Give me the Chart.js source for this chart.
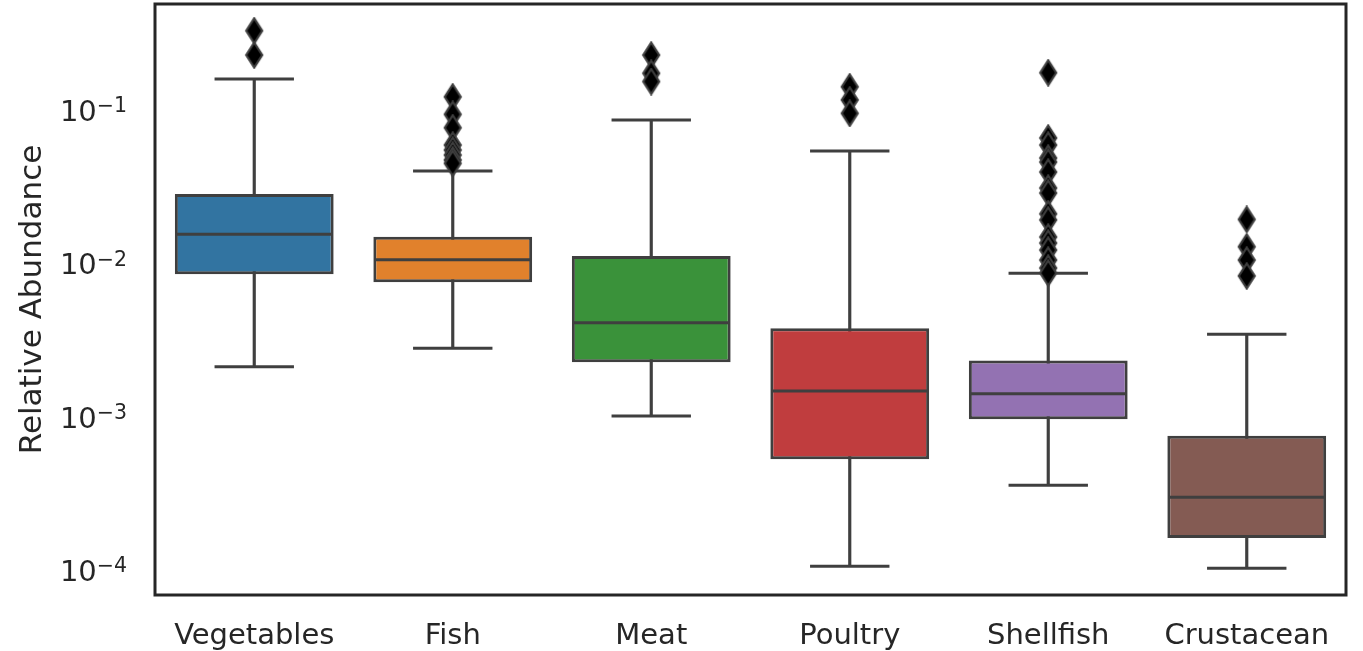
<!DOCTYPE html>
<html>
<head>
<meta charset="utf-8">
<script src="https://cdn.jsdelivr.net/npm/chart.js@4.4.1/dist/chart.umd.min.js"></script>
<style>
  html, body { margin: 0; padding: 0; background: #ffffff; }
  #wrap { width: 1363px; height: 651px; position: relative; }
</style>
</head>
<body>
<div id="wrap"><canvas id="c" width="1363" height="651"></canvas></div>
<script>
// ---- data ----
const categories = ['Vegetables', 'Fish', 'Meat', 'Poultry', 'Shellfish', 'Crustacean'];
const q1Values     = [0.00835, 0.00741, 0.00223, 0.000519, 0.000946, 0.000159];
const medianValues = [0.01524, 0.0104, 0.00404, 0.001445, 0.00139, 0.000293];
const q3Values     = [0.02792, 0.01469, 0.01099, 0.00371, 0.002285, 0.000740];
const whiskerLow   = [0.002085, 0.002749, 0.000993, 0.000104, 0.000352, 0.000101];
const whiskerHigh  = [0.157, 0.0394, 0.0848, 0.0532, 0.00848, 0.0034];
const outliersVegetables = [0.324, 0.225];
const outliersFish = [0.120, 0.0923, 0.0755, 0.0582, 0.0540, 0.0501, 0.0465, 0.0442];
const outliersMeat = [0.225, 0.171, 0.151];
const outliersPoultry = [0.1396, 0.1146, 0.0937];
const outliersShellfish = [0.1725, 0.0647, 0.0582, 0.0479, 0.0451, 0.0388, 0.0305, 0.0283,
                           0.0207, 0.0189, 0.01462, 0.01336, 0.01203, 0.01035, 0.00918, 0.00851];
const outliersCrustacean = [0.01905, 0.01264, 0.01035, 0.00815];
const yTickValues = [1e-4, 1e-3, 1e-2, 1e-1];
const yTickBase = ['10', '10', '10', '10'];
const yTickExponents = ['\u22124', '\u22123', '\u22122', '\u22121'];
const boxColors = ['#3274a1', '#e1812c', '#3a923a', '#c03d3e', '#9372b2', '#845b53'];

const outliers = [outliersVegetables, outliersFish, outliersMeat, outliersPoultry, outliersShellfish, outliersCrustacean];
const lineGray = '#3f3f3f';
const textColor = '#262626';

// thin diamond marker
function makeDiamond() {
  const w = 20, h = 28;
  const c = document.createElement('canvas');
  c.width = w; c.height = h;
  const g = c.getContext('2d');
  g.beginPath();
  g.moveTo(w / 2, 1.5);
  g.lineTo(w - 2, h / 2);
  g.lineTo(w / 2, h - 1.5);
  g.lineTo(2, h / 2);
  g.closePath();
  g.fillStyle = '#000000';
  g.fill();
  g.lineWidth = 2.2;
  g.strokeStyle = lineGray;
  g.stroke();
  return c;
}
const diamond = makeDiamond();

const boxData = categories.map((c, i) => [q1Values[i], q3Values[i]]);
const whiskerData = categories.map((c, i) => [whiskerLow[i], whiskerHigh[i]]);
const medianData = categories.map((c, i) => ({ x: c, y: medianValues[i] }));
const capData = [];
categories.forEach((c, i) => { capData.push({ x: c, y: whiskerLow[i] }); capData.push({ x: c, y: whiskerHigh[i] }); });
const flierData = [];
categories.forEach((c, i) => outliers[i].forEach(v => flierData.push({ x: c, y: v })));

function bandWidth(ctx) {
  const xs = ctx.chart.scales.x;
  return xs ? xs.width / categories.length : 198;
}

const framePlugin = {
  id: 'frame',
  afterDraw(chart) {
    const a = chart.chartArea, g = chart.ctx;
    g.save();
    g.strokeStyle = textColor;
    g.lineWidth = 3;
    g.strokeRect(a.left, a.top, a.right - a.left, a.bottom - a.top);
    // y tick labels with superscript exponents, placed by the y scale
    const ys = chart.scales.y;
    const right = a.left - 28;
    g.fillStyle = textColor;
    g.textBaseline = 'alphabetic';
    yTickValues.forEach((v, i) => {
      const py = ys.getPixelForValue(v);
      g.font = '20.5px "DejaVu Sans"';
      const ew = g.measureText(yTickExponents[i]).width;
      g.textAlign = 'right';
      g.fillText(yTickExponents[i], right, py + 3.5);
      g.font = '29px "DejaVu Sans"';
      g.fillText(yTickBase[i], right - ew, py + 12);
    });
    g.restore();
  }
};

new Chart(document.getElementById('c'), {
  data: {
    labels: categories,
    datasets: [
      {
        type: 'bar', label: 'whiskers', data: whiskerData,
        backgroundColor: lineGray, borderWidth: 0, barThickness: 2.5,
        grouped: false, order: 4
      },
      {
        type: 'bar', label: 'boxes', data: boxData,
        backgroundColor: boxColors, borderColor: lineGray, borderWidth: 3,
        borderSkipped: false, barPercentage: 0.8, categoryPercentage: 1.0,
        grouped: false, order: 3
      },
      {
        type: 'line', label: 'medians', data: medianData, showLine: false,
        pointStyle: 'line', borderColor: lineGray, pointBorderWidth: 3,
        pointRadius: (ctx) => bandWidth(ctx) * 0.4 - 1.5, order: 2
      },
      {
        type: 'line', label: 'caps', data: capData, showLine: false,
        pointStyle: 'line', borderColor: lineGray, pointBorderWidth: 3,
        pointRadius: (ctx) => bandWidth(ctx) * 0.2, order: 2
      },
      {
        type: 'line', label: 'outliers', data: flierData, showLine: false,
        pointStyle: diamond, pointRadius: 10, order: 1
      }
    ]
  },
  options: {
    responsive: false,
    animation: false,
    events: [],
    layout: { autoPadding: false, padding: { left: 0, right: 17, top: 4, bottom: 0 } },
    plugins: { legend: { display: false }, tooltip: { enabled: false } },
    scales: {
      x: {
        type: 'category', offset: true,
        grid: { display: false, drawTicks: false },
        border: { display: false },
        ticks: { color: textColor, font: { family: 'DejaVu Sans', size: 29 }, padding: 24, maxRotation: 0 },
        afterFit(s) { s.height = 56; s.paddingLeft = 0; s.paddingRight = 0; }
      },
      y: {
        type: 'logarithmic',
        min: 6.76e-5, max: 0.484,
        grid: { display: false, drawTicks: false },
        border: { display: false },
        afterBuildTicks(s) { s.ticks = yTickValues.map(v => ({ value: v })); },
        ticks: { display: false },
        title: {
          display: true, text: 'Relative Abundance', color: textColor,
          font: { family: 'DejaVu Sans', size: 31 }, padding: { top: 14, bottom: 0 }
        },
        afterFit(s) { s.width = 155; s.paddingTop = 0; s.paddingBottom = 0; }
      }
    }
  },
  plugins: [framePlugin]
});
</script>
</body>
</html>
